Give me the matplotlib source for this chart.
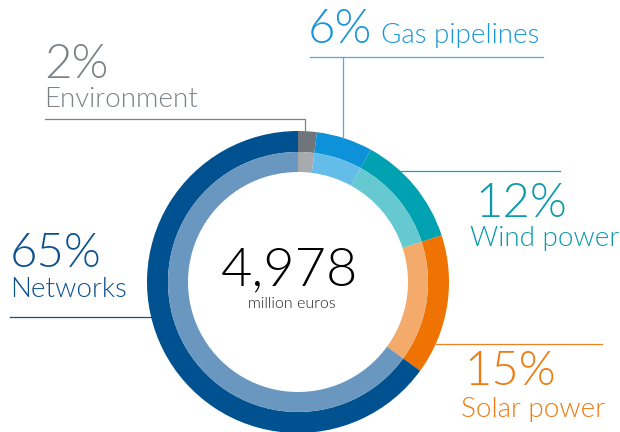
import matplotlib.pyplot as plt

# investment split, clockwise from 12 o'clock
labels = ["Environment", "Gas pipelines", "Wind power", "Solar power", "Networks"]
shares = [2, 6, 12, 15, 65]
total = "4,978"
unit = "million euros"

outer_colors = ["#6e767b", "#0d92d9", "#00a1b1", "#ee7303", "#00518f"]
inner_colors = ["#a7abae", "#64bde9", "#66c9d1", "#f4aa6a", "#6a97c0"]
text_colors = ["#7a8287", "#1a96d8", "#0a9aab", "#ee7a10", "#0d528f"]

plt.rcParams['font.family'] = ['Lato', 'DejaVu Sans']

fig = plt.figure(figsize=(6.2, 4.32), dpi=100)
ax = fig.add_axes([0, 0, 1, 1])

cx, cy = 298, 282
r_out, r_mid, r_in = 151, 130, 110

# y axis is inverted (pixel-like coords), so counterclockwise in data = clockwise on screen
ax.pie(shares, colors=outer_colors, radius=r_out, center=(cx, cy),
       startangle=-90, counterclock=True, frame=True,
       wedgeprops=dict(width=r_out - r_mid, linewidth=0))
ax.pie(shares, colors=inner_colors, radius=r_mid, center=(cx, cy),
       startangle=-90, counterclock=True, frame=True,
       wedgeprops=dict(width=r_mid - r_in, linewidth=0))

ax.set_xlim(0, 620)
ax.set_ylim(432, 0)
ax.set_aspect('equal')
ax.axis('off')

lw = 0.9
# leader lines
ax.plot([45, 305, 305], [119, 119, 131], color="#7a8287", lw=lw)
ax.plot([310, 543], [57, 57], color="#4aaee0", lw=lw)
ax.plot([343, 343], [57, 138], color="#4aaee0", lw=lw)
ax.plot([400, 560], [171, 171], color="#1aa2b2", lw=lw)
ax.plot([436, 602], [344, 344], color="#ef8020", lw=lw)
ax.plot([10, 151], [317, 317], color="#0d528f", lw=lw)

big = 34
small = 20
# (x percent, y percent baseline, x label, y label baseline)
pos = [(44, 78, 44, 107),
       (308, 43, 381, 43),
       (475, 217, 470, 246),
       (464, 385, 461, 417),
       (10, 267, 10, 297)]

for lab, s, c, (xp, yp, xl, yl) in zip(labels, shares, text_colors, pos):
    ax.text(xp, yp, f"{s}%", color=c, fontsize=big, fontweight=300,
            ha='left', va='baseline')
    ax.text(xl, yl, lab, color=c, fontsize=small, fontweight=300,
            ha='left', va='baseline')

ax.text(290, 285, total, color="black", fontsize=39, fontweight=300,
        ha='center', va='baseline')
ax.text(292, 308, unit, color="#222222", fontsize=11.5, fontweight=300,
        ha='center', va='baseline')

fig.savefig('out.png', dpi=100)
